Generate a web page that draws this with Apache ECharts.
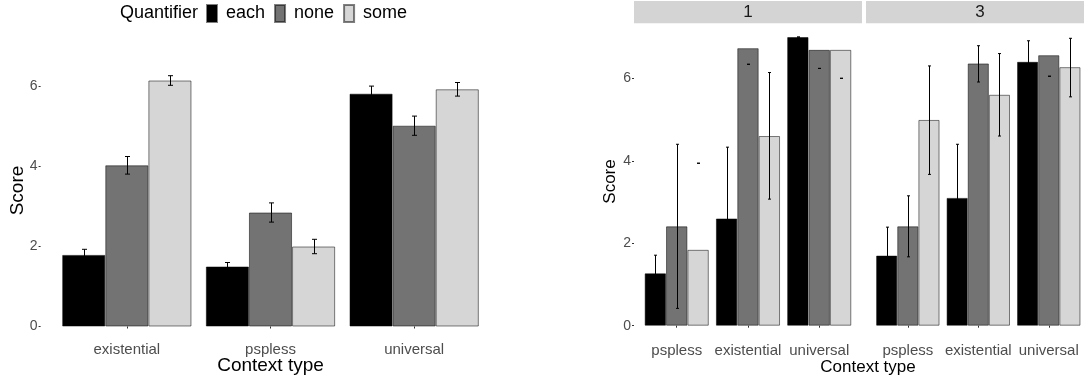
<!DOCTYPE html>
<html>
<head>
<meta charset="utf-8">
<script src="https://cdn.jsdelivr.net/npm/echarts@6/dist/echarts.min.js"></script>
<style>
html, body { margin: 0; padding: 0; background: #fff; }
#chart { width: 1084px; height: 381px; }
</style>
</head>
<body>
<div id="chart"></div>
<script>
var quantifiers = ['each', 'none', 'some']
var yTicks = [0, 2, 4, 6]

// left plot: means with standard errors
var contextLeft = ['existential', 'pspless', 'universal']
var eachLeft = [1.79, 1.50, 5.82]
var noneLeft = [4.03, 2.85, 5.02]
var someLeft = [6.15, 2.00, 5.93]
var eachLeftSe = [0.14, 0.10, 0.19]
var noneLeftSe = [0.22, 0.24, 0.24]
var someLeftSe = [0.12, 0.18, 0.17]

// right plot, facets 1 and 3: means with lower / upper bounds
var facets = ['1', '3']
var contextRight = ['pspless', 'existential', 'universal']
var each1 = [1.27, 2.60, 7.00]
var none1 = [2.41, 6.73, 6.69]
var some1 = [1.84, 4.60, 6.69]
var each1Lo = [0.83, 0.87, 7.00], each1Hi = [1.71, 4.33, 7.00]
var none1Lo = [0.42, 6.34, 6.24], none1Hi = [4.40, 6.34, 6.24]
var some1Lo = [3.94, 3.07, 6.00], some1Hi = [3.94, 6.14, 6.00]

var each3 = [1.70, 3.10, 6.40]
var none3 = [2.41, 6.36, 6.56]
var some3 = [4.99, 5.60, 6.27]
var each3Lo = [1.01, 1.80, 5.89], each3Hi = [2.39, 4.40, 6.91]
var none3Lo = [1.67, 5.91, 6.05], none3Hi = [3.15, 6.79, 6.05]
var some3Lo = [3.67, 4.60, 5.55], some3Hi = [6.30, 6.60, 6.97]

var fills = ['#000000', '#737373', '#d6d6d6']

function errorData(los, his) {
    var out = []
    for (var q = 0; q < los.length; q++) {
        for (var i = 0; i < los[q].length; i++) {
            out.push([i, los[q][i], his[q][i], q])
        }
    }
    return out
}

function errorBars(capHalf) {
    return function (params, api) {
        var cat = api.value(0)
        var q = api.value(3)
        var lo = api.coord([cat, api.value(1)])
        var hi = api.coord([cat, api.value(2)])
        var band = api.size([1, 0])[0]
        var groupW = band * 0.9
        var barW = groupW / 3
        var x = Math.round(lo[0] - groupW / 2 + barW * (q + 0.5)) + 0.5
        var st = { stroke: '#000', lineWidth: 1 }
        return {
            type: 'group',
            children: [
                { type: 'line', shape: { x1: x, y1: lo[1], x2: x, y2: hi[1] }, style: st },
                { type: 'line', shape: { x1: x - capHalf, y1: hi[1], x2: x + capHalf, y2: hi[1] }, style: st },
                { type: 'line', shape: { x1: x - capHalf, y1: lo[1], x2: x + capHalf, y2: lo[1] }, style: st }
            ]
        }
    }
}

function barSeries(idx, values) {
    return values.map(function (v, q) {
        return {
            name: quantifiers[q], type: 'bar', xAxisIndex: idx, yAxisIndex: idx,
            barGap: 0, barCategoryGap: '10%',
            itemStyle: { color: fills[q], borderColor: 'rgba(0,0,0,0.5)', borderWidth: 1 },
            data: v
        }
    })
}

function xAxisFor(idx, cats, offset) {
    return {
        type: 'category', gridIndex: idx, data: cats, offset: offset,
        axisLine: { show: false },
        axisTick: { show: true, alignWithLabel: true, length: 2, lineStyle: { color: '#333' } },
        axisLabel: { interval: 0, margin: 3, fontSize: 15, color: '#4d4d4d', fontFamily: 'Liberation Sans' }
    }
}

function yAxisFor(idx, max, offset, show) {
    return {
        type: 'value', gridIndex: idx, min: 0, max: max, offset: offset,
        splitLine: { show: false },
        axisLine: { show: false },
        axisTick: { show: show, length: 2, customValues: yTicks, lineStyle: { color: '#333' } },
        axisLabel: { show: show, margin: 3, customValues: yTicks, fontSize: 14, color: '#4d4d4d', fontFamily: 'Liberation Sans' }
    }
}

var chart = echarts.init(document.getElementById('chart'))

var series = []
series = series.concat(barSeries(0, [eachLeft, noneLeft, someLeft]))
series = series.concat(barSeries(1, [each1, none1, some1]))
series = series.concat(barSeries(2, [each3, none3, some3]))

var leftLo = [eachLeft, noneLeft, someLeft].map(function (v, q) {
    var se = [eachLeftSe, noneLeftSe, someLeftSe][q]
    return v.map(function (m, i) { return m - se[i] })
})
var leftHi = [eachLeft, noneLeft, someLeft].map(function (v, q) {
    var se = [eachLeftSe, noneLeftSe, someLeftSe][q]
    return v.map(function (m, i) { return m + se[i] })
})

series.push({
    type: 'custom', xAxisIndex: 0, yAxisIndex: 0, z: 10,
    renderItem: errorBars(2.5), encode: { x: 0, y: [1, 2] },
    data: errorData(leftLo, leftHi)
})
series.push({
    type: 'custom', xAxisIndex: 1, yAxisIndex: 1, z: 10,
    renderItem: errorBars(1.5), encode: { x: 0, y: [1, 2] },
    data: errorData([each1Lo, none1Lo, some1Lo], [each1Hi, none1Hi, some1Hi])
})
series.push({
    type: 'custom', xAxisIndex: 2, yAxisIndex: 2, z: 10,
    renderItem: errorBars(1.5), encode: { x: 0, y: [1, 2] },
    data: errorData([each3Lo, none3Lo, some3Lo], [each3Hi, none3Hi, some3Hi])
})

var titleFont = 'Liberation Sans'

var option = {
    animation: false,
    backgroundColor: '#fff',
    textStyle: { fontFamily: 'Liberation Sans' },
    legend: {
        data: quantifiers, left: 206, top: 4, padding: 0,
        itemWidth: 10, itemHeight: 17, itemGap: 9, icon: 'rect',
        textStyle: { fontSize: 18, color: '#000', padding: [0, 0, 0, 4] }
    },
    grid: [
        { left: 55, width: 431, top: 62.5, height: 264 },
        { left: 641.1, width: 213.75, top: 24.7, height: 301 },
        { left: 872.6, width: 213.75, top: 24.7, height: 301 }
    ],
    xAxis: [
        xAxisFor(0, contextLeft, 12.6),
        xAxisFor(1, contextRight, 14.4),
        xAxisFor(2, contextRight, 14.4)
    ],
    yAxis: [
        yAxisFor(0, 6.6, 14.4, true),
        yAxisFor(1, 7.3, 7.1, true),
        yAxisFor(2, 7.3, 0, false)
    ],
    graphic: [
        { type: 'text', x: 120, y: 13, style: { text: 'Quantifier', font: '18px ' + titleFont, fill: '#000', textVerticalAlign: 'middle' } },
        { type: 'text', x: 270.5, y: 366, style: { text: 'Context type', font: '19px ' + titleFont, fill: '#000', textAlign: 'center', textVerticalAlign: 'middle' } },
        { type: 'text', x: 17.5, y: 190.5, rotation: Math.PI / 2, style: { text: 'Score', font: '19px ' + titleFont, fill: '#000', textAlign: 'center', textVerticalAlign: 'middle' } },
        { type: 'text', x: 868, y: 367, style: { text: 'Context type', font: '17px ' + titleFont, fill: '#000', textAlign: 'center', textVerticalAlign: 'middle' } },
        { type: 'text', x: 610, y: 181.5, rotation: Math.PI / 2, style: { text: 'Score', font: '17px ' + titleFont, fill: '#000', textAlign: 'center', textVerticalAlign: 'middle' } },
        { type: 'rect', shape: { x: 634, y: 1, width: 228, height: 22.3 }, style: { fill: '#d4d4d4' } },
        { type: 'rect', shape: { x: 866, y: 1, width: 228, height: 22.3 }, style: { fill: '#d4d4d4' } },
        { type: 'text', x: 748, y: 12.5, style: { text: facets[0], font: '17px ' + titleFont, fill: '#1a1a1a', textAlign: 'center', textVerticalAlign: 'middle' } },
        { type: 'text', x: 980, y: 12.5, style: { text: facets[1], font: '17px ' + titleFont, fill: '#1a1a1a', textAlign: 'center', textVerticalAlign: 'middle' } }
    ],
    series: series
}

chart.setOption(option)
</script>
</body>
</html>
